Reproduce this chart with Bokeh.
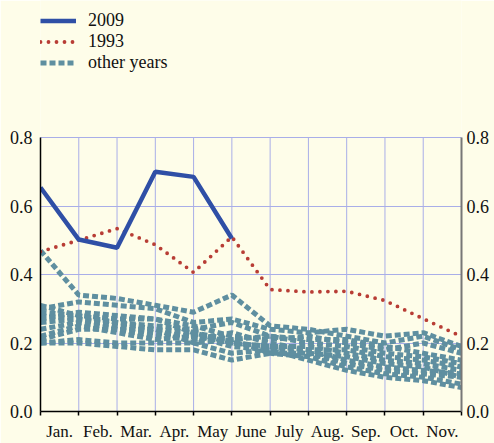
from bokeh.plotting import figure
from bokeh.models import (Range1d, FixedTicker, LinearAxis, Legend, LegendItem,
                          ColumnDataSource)
from bokeh.embed import file_html
from bokeh.resources import INLINE

# ---------------- data ----------------
months = ["Jan.", "Feb.", "Mar.", "Apr.", "May", "June", "July", "Aug.", "Sep.", "Oct.", "Nov."]
month_idx = list(range(12))          # data points at month boundaries (Jan .. Dec)
y_ticks = [0.0, 0.2, 0.4, 0.6, 0.8]
y_tick_labels = ["0.0", "0.2", "0.4", "0.6", "0.8"]

y2009 = [0.654, 0.502, 0.478, 0.700, 0.685, 0.505]
y1993 = [0.467, 0.500, 0.534, 0.487, 0.406, 0.510, 0.356, 0.349, 0.351, 0.324, 0.271, 0.219]

other_years = [
    [0.47, 0.34, 0.33, 0.31, 0.29, 0.34, 0.25, 0.24, 0.22, 0.20, 0.22, 0.18],
    [0.30, 0.32, 0.31, 0.30, 0.26, 0.27, 0.24, 0.23, 0.24, 0.22, 0.23, 0.19],
    [0.31, 0.28, 0.27, 0.27, 0.25, 0.22, 0.21, 0.22, 0.20, 0.18, 0.20, 0.17],
    [0.28, 0.27, 0.26, 0.24, 0.23, 0.21, 0.22, 0.20, 0.19, 0.17, 0.16, 0.14],
    [0.26, 0.27, 0.25, 0.23, 0.22, 0.20, 0.19, 0.19, 0.17, 0.15, 0.14, 0.12],
    [0.24, 0.26, 0.24, 0.22, 0.21, 0.23, 0.20, 0.18, 0.15, 0.13, 0.12, 0.11],
    [0.22, 0.25, 0.23, 0.21, 0.22, 0.19, 0.18, 0.17, 0.14, 0.12, 0.11, 0.10],
    [0.21, 0.24, 0.24, 0.24, 0.20, 0.21, 0.17, 0.16, 0.13, 0.11, 0.10, 0.08],
    [0.20, 0.21, 0.20, 0.20, 0.20, 0.17, 0.18, 0.15, 0.12, 0.10, 0.09, 0.07],
    [0.20, 0.20, 0.19, 0.18, 0.18, 0.15, 0.17, 0.17, 0.16, 0.14, 0.13, 0.10],
    [0.29, 0.28, 0.26, 0.25, 0.24, 0.26, 0.22, 0.21, 0.21, 0.19, 0.17, 0.15],
    [0.27, 0.29, 0.28, 0.27, 0.23, 0.20, 0.19, 0.18, 0.18, 0.16, 0.15, 0.13],
]

# ---------------- styles ----------------
BG = "#fefde9"
GRID = "#a9aee8"
BLUE = "#2f4fa6"
RED = "#b83d35"
TEAL = "#5f8fa0"
FONT = "Liberation Serif"
Y_MAX = y_ticks[-1]

# frame extends up to the canvas top (room for the legend); axes/grid stop at 0.8
p = figure(width=494, height=443, output_backend="svg", toolbar_location=None,
           x_range=Range1d(0, 11), y_range=Range1d(0, 1.2),
           background_fill_color=BG, border_fill_color=BG,
           min_border_left=40, min_border_right=33, min_border_top=0,
           min_border_bottom=26, outline_line_color=None)

# vertical month grid lines, limited to the 0 .. 0.8 value band
p.xgrid.visible = False
p.segment(x0=month_idx, y0=[y_ticks[0]] * len(month_idx),
          x1=month_idx, y1=[Y_MAX] * len(month_idx),
          line_color=GRID, line_width=1, level="underlay")
p.ygrid.ticker = FixedTicker(ticks=y_ticks)
p.ygrid.grid_line_color = GRID
p.ygrid.grid_line_width = 1

# other years
src = ColumnDataSource(dict(xs=[month_idx[:len(o)] for o in other_years], ys=other_years))
r_other = p.multi_line("xs", "ys", source=src, line_color=TEAL, line_width=5,
                       line_dash="6 3")
r_1993 = p.line(month_idx[:len(y1993)], y1993, line_color=RED, line_width=3.8,
                line_dash="0 8", line_cap="round")
r_2009 = p.line(month_idx[:len(y2009)], y2009, line_color=BLUE, line_width=4.5)

# axes
xaxis = p.xaxis[0]
xaxis.ticker = FixedTicker(ticks=[i + 0.5 for i in range(len(months))],
                           minor_ticks=month_idx)
xaxis.major_label_overrides = {i + 0.5: m for i, m in enumerate(months)}
xaxis.major_tick_out = 0
xaxis.major_tick_in = 0
xaxis.minor_tick_out = 4
xaxis.minor_tick_in = 0
xaxis.minor_tick_line_color = "black"
xaxis.minor_tick_line_width = 1.5
xaxis.axis_line_color = "black"
xaxis.axis_line_width = 1.5
xaxis.major_label_standoff = 6
xaxis.major_label_text_font = FONT
xaxis.major_label_text_font_size = "17px"
xaxis.major_label_text_color = "#111111"

yaxis = p.yaxis[0]
yaxis.ticker = FixedTicker(ticks=y_ticks)
yaxis.bounds = (0, Y_MAX)
yaxis.major_label_overrides = dict(zip(y_ticks, y_tick_labels))
yaxis.major_tick_out = 0
yaxis.major_tick_in = 0
yaxis.minor_tick_line_color = None
yaxis.axis_line_color = "black"
yaxis.axis_line_width = 1.5
yaxis.major_label_standoff = 8
yaxis.major_label_text_font = FONT
yaxis.major_label_text_font_size = "18px"
yaxis.major_label_text_color = "#111111"

raxis = LinearAxis(ticker=FixedTicker(ticks=y_ticks), bounds=(0, Y_MAX),
                   major_label_overrides=dict(zip(y_ticks, y_tick_labels)),
                   major_tick_out=0, major_tick_in=0, minor_tick_line_color=None,
                   axis_line_color="#777777", axis_line_width=2,
                   major_label_standoff=5, major_label_text_font=FONT,
                   major_label_text_font_size="18px",
                   major_label_text_color="#111111")
p.add_layout(raxis, "right")

# legend
legend = Legend(items=[LegendItem(label="2009", renderers=[r_2009]),
                       LegendItem(label="1993", renderers=[r_1993]),
                       LegendItem(label="other years", renderers=[r_other])],
                location=(0, 338), orientation="vertical",
                glyph_width=36, glyph_height=21, label_height=21, spacing=0,
                padding=0, margin=0, label_standoff=12,
                label_text_font=FONT, label_text_font_size="18px",
                label_text_color="#111111",
                background_fill_alpha=0, border_line_alpha=0)
p.add_layout(legend, "center")

open("out.html", "w").write(file_html(p, INLINE))
